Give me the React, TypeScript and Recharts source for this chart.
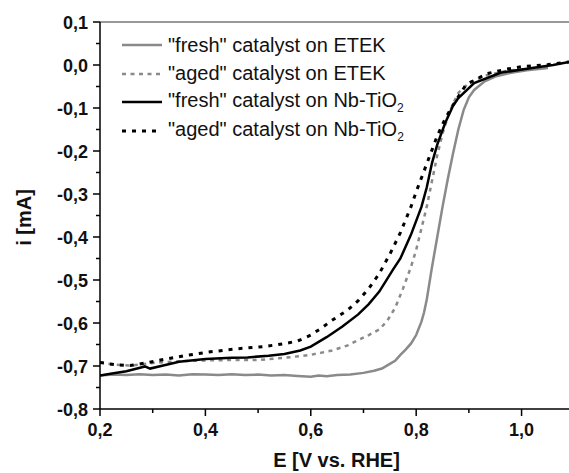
import { LineChart, Line, XAxis, YAxis, Legend, ReferenceLine } from 'recharts'

// [E (V vs. RHE), i (mA)]
const freshEtek: [number, number][] = [
  [0.2, -0.722], [0.225, -0.72], [0.25, -0.721], [0.275, -0.719], [0.3, -0.721],
  [0.325, -0.72], [0.35, -0.722], [0.375, -0.719], [0.4, -0.72], [0.425, -0.721],
  [0.45, -0.719], [0.475, -0.721], [0.5, -0.72], [0.525, -0.722], [0.55, -0.721],
  [0.575, -0.723], [0.6, -0.725], [0.615, -0.722], [0.63, -0.724], [0.65, -0.721],
  [0.675, -0.72], [0.7, -0.716], [0.72, -0.711], [0.735, -0.706], [0.75, -0.695],
  [0.76, -0.688], [0.77, -0.674], [0.78, -0.662], [0.79, -0.648], [0.8, -0.628],
  [0.81, -0.597], [0.815, -0.575], [0.82, -0.546], [0.83, -0.47], [0.84, -0.4],
  [0.85, -0.33], [0.86, -0.265], [0.87, -0.205], [0.88, -0.15], [0.89, -0.105],
  [0.9, -0.075], [0.91, -0.058], [0.93, -0.038], [0.95, -0.027], [0.98, -0.018],
  [1.01, -0.012], [1.05, -0.007],
]

const agedEtek: [number, number][] = [
  [0.2, -0.692], [0.23, -0.697], [0.26, -0.699], [0.3, -0.693], [0.35, -0.689],
  [0.4, -0.687], [0.45, -0.686], [0.5, -0.686], [0.55, -0.681], [0.6, -0.674],
  [0.64, -0.664], [0.67, -0.652], [0.69, -0.64], [0.71, -0.628], [0.73, -0.615],
  [0.745, -0.595], [0.76, -0.565], [0.775, -0.52], [0.79, -0.47], [0.8, -0.43],
  [0.81, -0.38], [0.82, -0.33], [0.83, -0.27], [0.84, -0.21], [0.85, -0.16],
  [0.86, -0.12], [0.87, -0.09], [0.88, -0.065], [0.9, -0.042], [0.93, -0.025],
  [0.97, -0.014], [1.01, -0.009], [1.05, -0.005],
]

const freshNb: [number, number][] = [
  [0.2, -0.722], [0.22, -0.718], [0.25, -0.712], [0.276, -0.704], [0.285, -0.701],
  [0.295, -0.706], [0.32, -0.699], [0.35, -0.69], [0.4, -0.684], [0.45, -0.681],
  [0.48, -0.68], [0.52, -0.676], [0.55, -0.672], [0.58, -0.664], [0.6, -0.655],
  [0.63, -0.633], [0.66, -0.608], [0.69, -0.58], [0.71, -0.556], [0.73, -0.527],
  [0.756, -0.476], [0.77, -0.45], [0.79, -0.395], [0.81, -0.33], [0.82, -0.285],
  [0.83, -0.228], [0.84, -0.185], [0.855, -0.135], [0.87, -0.095], [0.88, -0.077],
  [0.91, -0.042], [0.96, -0.018], [1.02, -0.007], [1.06, 0.0], [1.09, 0.007],
]

const agedNb: [number, number][] = [
  [0.2, -0.692], [0.23, -0.697], [0.257, -0.699], [0.29, -0.692], [0.32, -0.685],
  [0.36, -0.676], [0.41, -0.667], [0.46, -0.66], [0.51, -0.655], [0.55, -0.648],
  [0.575, -0.642], [0.6, -0.628], [0.62, -0.612], [0.64, -0.594], [0.67, -0.57],
  [0.69, -0.548], [0.71, -0.52], [0.73, -0.485], [0.75, -0.44], [0.77, -0.39],
  [0.79, -0.33], [0.8, -0.295], [0.82, -0.23], [0.84, -0.165], [0.855, -0.125],
  [0.87, -0.093], [0.895, -0.045], [0.935, -0.02], [0.97, -0.01], [1.0, -0.004],
  [1.05, 0.001], [1.09, 0.007],
]

const xTicks = [0.2, 0.3, 0.4, 0.5, 0.6, 0.7, 0.8, 0.9, 1.0]
const yTicks = [
  -0.8, -0.75, -0.7, -0.65, -0.6, -0.55, -0.5, -0.45, -0.4, -0.35,
  -0.3, -0.25, -0.2, -0.15, -0.1, -0.05, 0, 0.05, 0.1,
]

const FONT = '"Liberation Sans", Arial, sans-serif'
const GRAY = '#8a8a8a'

const series = [
  { key: 'freshEtek', data: freshEtek, color: GRAY, dash: undefined, width: 2.5, name: '"fresh" catalyst on ETEK', sub: false },
  { key: 'agedEtek', data: agedEtek, color: GRAY, dash: '4 4.5', width: 2.5, name: '"aged" catalyst on ETEK', sub: false },
  { key: 'freshNb', data: freshNb, color: '#000', dash: undefined, width: 2.5, name: '"fresh" catalyst on Nb-TiO', sub: true },
  { key: 'agedNb', data: agedNb, color: '#000', dash: '4 6', width: 3, name: '"aged" catalyst on Nb-TiO', sub: true },
]

const toPts = (arr: [number, number][]) => arr.map(([x, y]) => ({ x, y }))
const fmt = (v: number) => (Math.abs(v) < 1e-9 ? '0,0' : v.toFixed(1).replace('.', ','))

function YTick({ x, y, payload }: any) {
  const major = Math.round(payload.value * 100) % 10 === 0
  return (
    <g>
      <line x1={x - (major ? 7 : 4)} x2={x} y1={y} y2={y} stroke="#000" strokeWidth={1.5} />
      {major && (
        <text x={x - 12} y={y} dy={6.5} textAnchor="end" fontFamily={FONT} fontWeight="bold" fontSize={18} fill="#111">
          {fmt(payload.value)}
        </text>
      )}
    </g>
  )
}

function XTick({ x, y, payload }: any) {
  const major = Math.round(payload.value * 10) % 2 === 0
  return (
    <g>
      <line x1={x} x2={x} y1={y} y2={y + (major ? 7 : 4)} stroke="#000" strokeWidth={1.5} />
      {major && (
        <text x={x} y={y + 27} textAnchor="middle" fontFamily={FONT} fontWeight="bold" fontSize={18} fill="#111">
          {fmt(payload.value)}
        </text>
      )}
    </g>
  )
}

function LegendBox() {
  return (
    <div style={{ fontFamily: FONT, fontSize: 20, color: '#111' }}>
      {series.map((s) => (
        <div key={s.key} style={{ display: 'flex', alignItems: 'center', height: 28.5, whiteSpace: 'nowrap' }}>
          <svg width={46} height={10} style={{ flex: 'none' }}>
            <line x1={0} x2={40} y1={5} y2={5} stroke={s.color} strokeWidth={s.width} strokeDasharray={s.dash} />
          </svg>
          <span>
            {s.name}
            {s.sub && <sub style={{ fontSize: 12, verticalAlign: -5 }}>2</sub>}
          </span>
        </div>
      ))}
    </div>
  )
}

export default function App() {
  return (
    <div style={{ position: 'absolute', left: 0, top: 0, width: 569, height: 473, background: '#fff' }}>
      <LineChart width={569} height={473} margin={{ top: 22, right: 0, bottom: 0, left: 0 }}>
        <XAxis
          dataKey="x"
          type="number"
          domain={[0.2, 1.09]}
          allowDataOverflow
          ticks={xTicks}
          interval={0}
          height={64}
          tickSize={0}
          tickMargin={0}
          tick={<XTick />}
          axisLine={{ stroke: '#000', strokeWidth: 1.5 }}
          label={{
            content: ({ viewBox }: any) => (
              <text
                x={viewBox.x + viewBox.width / 2 + 2}
                y={viewBox.y + viewBox.height - 6}
                textAnchor="middle"
                fontFamily={FONT}
                fontWeight="bold"
                fontSize={20}
                fill="#111"
              >
                E [V vs. RHE]
              </text>
            ),
          }}
        />
        <YAxis
          dataKey="y"
          type="number"
          domain={[-0.8, 0.1]}
          allowDataOverflow
          ticks={yTicks}
          interval={0}
          width={100}
          tickSize={0}
          tickMargin={0}
          tick={<YTick />}
          axisLine={{ stroke: '#000', strokeWidth: 1.5 }}
          label={{
            content: ({ viewBox }: any) => {
              const cx = viewBox.x + 24
              const cy = viewBox.y + viewBox.height / 2 + 2
              return (
                <text
                  x={cx}
                  y={cy}
                  dy={7}
                  transform={`rotate(-90 ${cx} ${cy})`}
                  textAnchor="middle"
                  fontFamily={FONT}
                  fontWeight="bold"
                  fontSize={20}
                  fill="#111"
                >
                  i [mA]
                </text>
              )
            },
          }}
        />
        <ReferenceLine y={0.1} stroke="#333" strokeWidth={1} />
        {series.map((s) => (
          <Line
            key={s.key}
            data={toPts(s.data)}
            dataKey="y"
            type="linear"
            stroke={s.color}
            strokeWidth={s.width}
            strokeDasharray={s.dash}
            dot={false}
            activeDot={false}
            isAnimationActive={false}
          />
        ))}
        <Legend
          layout="horizontal"
          verticalAlign="middle"
          align="center"
          content={() => <LegendBox />}
          wrapperStyle={{ position: 'absolute', left: 122, top: 31, width: 'auto', height: 'auto' }}
        />
      </LineChart>
    </div>
  )
}
